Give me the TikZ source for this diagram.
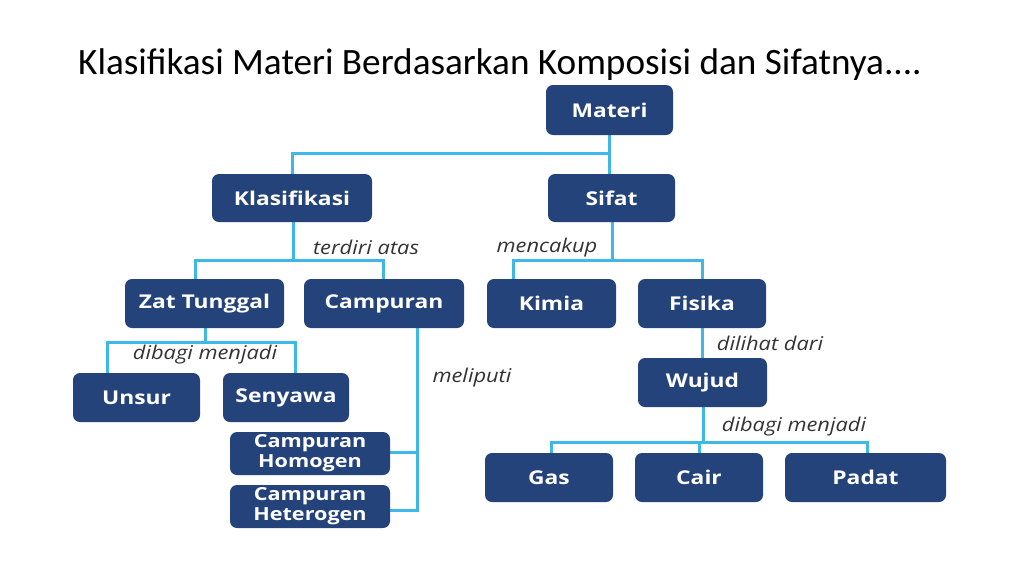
\documentclass[tikz,border=0pt]{standalone}
\usepackage{fontspec}
\setmainfont{Open Sans}
\newfontfamily\titlefont{Carlito}
\newfontfamily\boxfont[FakeStretch=1.2]{Open Sans}
\newfontfamily\labfont[FakeStretch=1.15]{Open Sans}
\definecolor{navy}{HTML}{24437B}
\definecolor{linkblue}{HTML}{3DB8E8}
\definecolor{lbl}{HTML}{333333}
\begin{document}
\begin{tikzpicture}[x=1pt,y=-1pt,
  box/.style={fill=navy,rounded corners=7pt,text=white,font=\boxfont\fontsize{19}{21}\selectfont\bfseries,inner sep=0pt,align=center},
  link/.style={draw=linkblue,line width=3pt},
  lab/.style={text=lbl,font=\labfont\fontsize{19}{21}\selectfont\itshape,inner sep=0pt}]
\useasboundingbox (0,0) rectangle (1024,576);
\node[anchor=base west,inner sep=0pt,font=\titlefont\fontsize{37.2}{40}\selectfont] (title) at (78,74) {Klasifikasi Materi Berdasarkan Komposisi dan Sifatnya....};
% connectors first
\coordinate (j1) at (609,153);
\coordinate (j1l) at (292,153);
\coordinate (j2) at (293,260);
\coordinate (j2l) at (195,260);
\coordinate (j2r) at (383,260);
\coordinate (j3) at (612,260);
\coordinate (j3l) at (513,260);
\coordinate (j3r) at (702,260);
\coordinate (j4) at (205,342);
\coordinate (j4l) at (107,342);
\coordinate (j4r) at (295,342);
\coordinate (j5t) at (417,328);
\coordinate (j5a) at (417,452);
\coordinate (j5b) at (417,510);
\coordinate (j6) at (703,442);
\coordinate (j6l) at (551,442);
\coordinate (j6r) at (867,442);
\draw[link] (609,135) -- (609,174);
\draw[link] (j1) -- (j1l) -- (292,174);
\draw[link] (293,222) -- (j2);
\draw[link] (195,279) -- (j2l) -- (j2r) -- (383,279);
\draw[link] (612,222) -- (j3);
\draw[link] (513,279) -- (j3l) -- (j3r) -- (702,279);
\draw[link] (205,328) -- (j4);
\draw[link] (107,373) -- (j4l) -- (j4r) -- (295,373);
\draw[link] (j5t) -- (j5b) -- (390,510);
\draw[link] (j5a) -- (390,452);
\draw[link] (702,328) -- (702,358);
\draw[link] (703,407) -- (j6);
\draw[link] (551,453) -- (j6l) -- (j6r) -- (867,453);
\draw[link] (699,442) -- (699,453);
% nodes
\node[box,minimum width=127pt,minimum height=50pt] (materi) at (609.5,110) {Materi};
\node[box,minimum width=160pt,minimum height=48pt] (klas) at (292,198) {Klasifikasi};
\node[box,minimum width=127pt,minimum height=48pt] (sifat) at (611.5,198) {Sifat};
\node[box,minimum width=159pt,minimum height=49pt] (zat) at (204.5,303.5) {Zat Tunggal};
\node[box,minimum width=160pt,minimum height=49pt] (camp) at (384,303.5) {Campuran};
\node[box,minimum width=129pt,minimum height=49pt] (kimia) at (551.5,303.5) {Kimia};
\node[box,minimum width=128pt,minimum height=49pt] (fisika) at (702,303.5) {Fisika};
\node[box,minimum width=127pt,minimum height=49pt] (unsur) at (136.5,397.5) {Unsur};
\node[box,minimum width=126pt,minimum height=49pt] (senyawa) at (286,397.5) {Senyawa};
\node[box,minimum width=160pt,minimum height=43pt,font=\boxfont\fontsize{18}{20}\selectfont\bfseries] (homo) at (310,453.5) {Campuran\\Homogen};
\node[box,minimum width=160pt,minimum height=43pt,font=\boxfont\fontsize{18}{20}\selectfont\bfseries] (hetero) at (310,506.5) {Campuran\\Heterogen};
\node[box,minimum width=129pt,minimum height=49pt] (wujud) at (702.5,382.5) {Wujud};
\node[box,minimum width=128pt,minimum height=49pt] (gas) at (549,477.5) {Gas};
\node[box,minimum width=128pt,minimum height=49pt] (cair) at (699,477.5) {Cair};
\node[box,minimum width=161pt,minimum height=49pt] (padat) at (865.5,477.5) {Padat};
% labels
\node[lab] (l1) at (366,247) {terdiri atas};
\node[lab] (l2) at (547,248) {mencakup};
\node[lab] (l3) at (205,355) {dibagi menjadi};
\node[lab] (l4) at (472,378) {meliputi};
\node[lab] (l5) at (770,343) {dilihat dari};
\node[lab] (l6) at (794,427) {dibagi menjadi};
\end{tikzpicture}
\end{document}
